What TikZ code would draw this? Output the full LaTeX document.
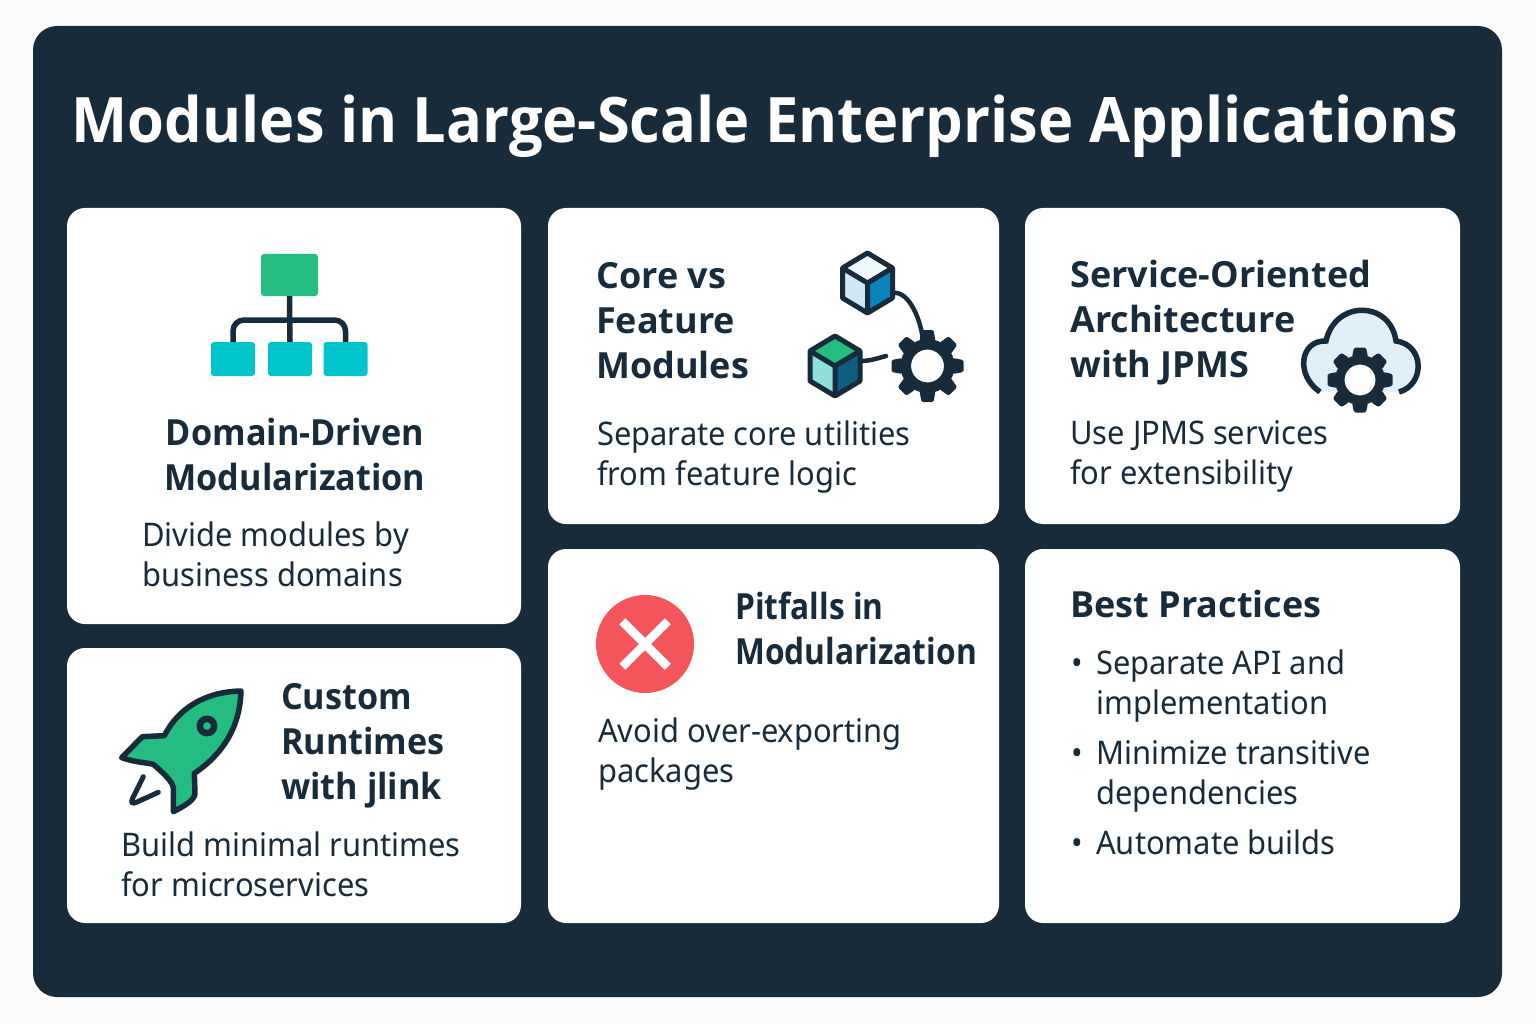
\documentclass[tikz,border=0pt]{standalone}
\usepackage{fontspec}
\setmainfont{Noto Sans}[FakeStretch=0.95]
\newfontfamily\headfont{Open Sans}
\newfontfamily\headtight{Open Sans}[FakeStretch=0.95]
\newfontfamily\headnarrow{Open Sans}[FakeStretch=0.88]
\usetikzlibrary{calc,positioning,shapes.misc}
\definecolor{ink}{HTML}{172B3A}
\definecolor{leaf}{HTML}{25BC82}
\definecolor{aqua}{HTML}{00C4CC}
\definecolor{alert}{HTML}{F4565C}
\definecolor{mist}{HTML}{E1F0F8}
\definecolor{frost}{HTML}{CFE8F3}
\definecolor{snow}{HTML}{EEF8FC}
\definecolor{ocean}{HTML}{0B84BE}
\definecolor{deep}{HTML}{0E5E82}
\definecolor{foam}{HTML}{8FE0DC}
\tikzset{
	card/.style={fill=white, rounded corners=18pt, inner sep=0pt, outer sep=0pt},
	heading/.style={anchor=north west, inner sep=0pt, align=left, text=ink, font=#1\fontsize{36}{45}\selectfont\bfseries},
	heading/.default=\headfont,
	bodytext/.style={anchor=north west, inner sep=0pt, align=left, text=ink, font=\fontsize{32.5}{40}\selectfont},
	wire/.style={draw=ink, line width=5.5pt, line cap=round},
	cubeline/.style={draw=ink, line width=5pt, line join=round}
}
\newcommand{\gearicon}[6]{%
	\begin{scope}[shift={(#2)}]
		\foreach \a in {0,45,...,315}{
			\fill[ink, rotate=\a, rounded corners=1.5pt] (-#6-2,-#4+2) -- (-#6,-#5) -- (#6,-#5) -- (#6+2,-#4+2) -- cycle;
		}
	\end{scope}
	\node[circle, fill=white, draw=ink, inner sep=0pt, minimum size=#3+#4, line width=#4-#3] (#1) at (#2) {};
}
\newcommand{\cubeicon}[6]{%
	\begin{scope}[shift={(#2)}]
		\fill[#3] (0,-30) -- (25,-15) -- (0,0) -- (-25,-15) -- cycle;
		\fill[#4] (-25,-15) -- (0,0) -- (0,30) -- (-25,15) -- cycle;
		\fill[#5] (25,-15) -- (0,0) -- (0,30) -- (25,15) -- cycle;
		\draw[cubeline] (0,-30) -- (25,-15) -- (25,15) -- (0,30) -- (-25,15) -- (-25,-15) -- cycle;
		\draw[cubeline] (-25,-15) -- (0,0) -- (25,-15) (0,0) -- (0,30);
		\coordinate (#1) at (25,#6);
	\end{scope}
}

\begin{document}
\begin{tikzpicture}[x=1pt, y=-1pt,
		kidbox/.style={fill=aqua, rounded corners=3pt, inner sep=0pt, minimum width=44pt, minimum height=34pt}]
	\useasboundingbox (0,0) rectangle (1536,1024);
	\fill[white!99!black] (0,0) rectangle (1536,1024);
	\node[fill=ink, rounded corners=24pt, minimum width=1469pt, minimum height=971pt, inner sep=0pt] (panel) at (767.5,511.5) {};
	\node[anchor=base, inner sep=0pt, text=white, font=\headtight\fontsize{62.7}{70}\selectfont\bfseries] (title) at (765,143) {Modules in Large-Scale Enterprise Applications};

	\node[card, minimum width=454pt, minimum height=416pt] (domain) at (294,416) {};
	\node[card, minimum width=454pt, minimum height=275pt] (runtime) at (294,785.5) {};
	\node[card, minimum width=451pt, minimum height=316pt] (core) at (773.5,366) {};
	\node[card, minimum width=451pt, minimum height=374pt] (pitfall) at (773.5,736) {};
	\node[card, minimum width=435pt, minimum height=316pt] (service) at (1242.5,366) {};
	\node[card, minimum width=435pt, minimum height=374pt] (best) at (1242.5,736) {};

	% org chart
	\node[fill=leaf, rounded corners=3pt, inner sep=0pt, minimum width=57pt, minimum height=42pt] (parent) at (289.5,275) {};
	\node[kidbox] (kidmid) at (290,359) {};
	\node[kidbox] (kidleft) at (233,359) {};
	\node[kidbox] (kidright) at (345.5,359) {};
	\coordinate (hub) at (290,320);
	\draw[wire, line cap=butt] (parent.south) -- (kidmid.north);
	\draw[wire, line cap=butt, rounded corners=11pt] (kidleft.north) |- (hub) -| (kidright.north);
	\node[heading=\headtight, anchor=north, align=center] (domainhead) at (295,418) {Domain-Driven\\Modularization};
	\node[bodytext] (domainbody) at (142,522) {Divide modules by\\business domains};

	% rocket
	\begin{scope}[shift={(105,675)}, x=0.3333pt, y=-0.3333pt]
		\draw[draw=ink, fill=leaf, line width=5.5pt, line join=round] (408,48) .. controls (300,50) and (220,100) .. (178,182) -- (112,185) -- (50,248) .. controls (90,262) and (120,262) .. (145,268) .. controls (170,290) and (205,320) .. (205,340) -- (205,410) .. controls (235,395) and (270,375) .. (270,355) -- (268,295) .. controls (350,240) and (405,160) .. (408,48) -- cycle;
		\draw[draw=ink, fill=leaf, line width=6.5pt] (306,153) circle (21.5);
		\draw[wire, line width=5pt, rounded corners=8pt] (115,305) -- (72,392) -- (160,352);
	\end{scope}
	\node[heading=\headtight] (runtimehead) at (281,683) {Custom\\Runtimes\\with jlink};
	\node[bodytext] (runtimebody) at (121,832) {Build minimal runtimes\\for microservices};

	% cubes and gear
	\coordinate (gearend) at (886,356);
	\cubeicon{cubea}{867.5,283}{snow}{frost}{ocean}{10}
	\cubeicon{cubeb}{835,366}{leaf}{foam}{deep}{-5}
	\gearicon{geara}{927.5,366}{16.5}{27}{36}{6}
	\draw[wire, line width=4.5pt] (cubea) to[out=10,in=95,looseness=0.8] (geara.100);
	\draw[wire, line width=4.5pt] (cubeb) to[out=0,in=195] (gearend);
	\node[heading] (corehead) at (596,262) {Core vs\\Feature\\Modules};
	\node[bodytext] (corebody) at (597,421) {Separate core utilities\\from feature logic};

	% cloud and gear
	\fill[mist] (1320,392) .. controls (1295,375) and (1300,340) .. (1326,341) .. controls (1335,300) and (1390,300) .. (1396,341) .. controls (1425,345) and (1425,385) .. (1399,392) -- cycle;
	\draw[wire, line cap=butt] (1320,392) .. controls (1295,375) and (1300,340) .. (1326,341) .. controls (1335,300) and (1390,300) .. (1396,341) .. controls (1425,345) and (1425,385) .. (1399,392);
	\gearicon{gearb}{1360,380}{15.5}{25}{32.5}{6}
	\node[heading] (servicehead) at (1070,260) {Service-Oriented\\Architecture\\with JPMS};
	\node[bodytext] (servicebody) at (1070,420) {Use JPMS services\\for extensibility};

	% stop sign
	\node[circle, fill=alert, inner sep=0pt, minimum size=98pt] (stop) at (645,644) {};
	\node[cross out, draw=white, line width=8.5pt, inner sep=0pt, minimum size=37pt] (crossmark) at (stop) {};
	\node[heading=\headnarrow] (pitfallhead) at (735,592) {Pitfalls in\\Modularization};
	\node[bodytext] (pitfallbody) at (598,718) {Avoid over-exporting\\packages};

	% list
	\node[heading] (besthead) at (1070,590) {Best Practices};
	\node[bodytext, anchor=base] (dota) at (1077,674) {•};
	\node[bodytext] (itema) at (1096,650) {Separate API and\\implementation};
	\node[bodytext, anchor=base] (dotb) at (1077,764) {•};
	\node[bodytext] (itemb) at (1096,740) {Minimize transitive\\dependencies};
	\node[bodytext, anchor=base] (dotc) at (1077,854) {•};
	\node[bodytext] (itemc) at (1096,830) {Automate builds};
\end{tikzpicture}
\end{document}
